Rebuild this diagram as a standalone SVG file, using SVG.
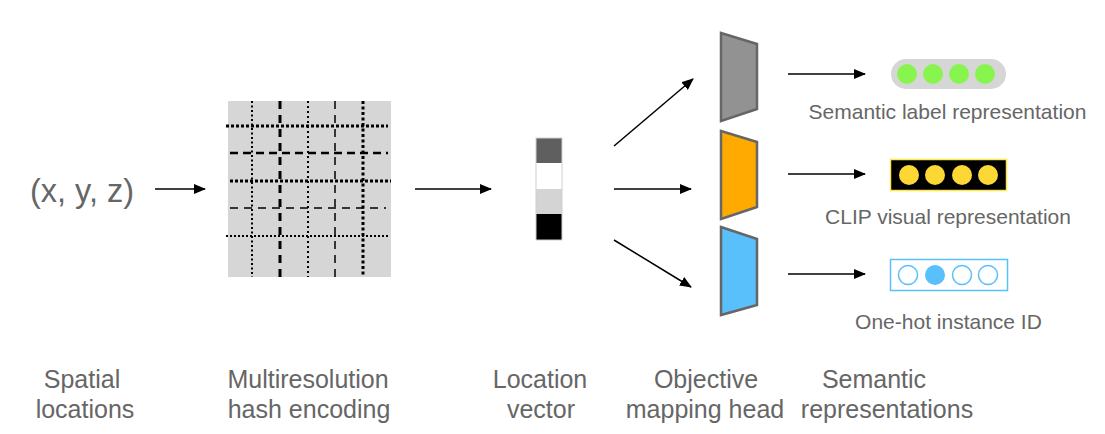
<svg xmlns="http://www.w3.org/2000/svg" width="1105" height="434" viewBox="0 0 1105 434">
  <style>
    .lbl { font-family: "Liberation Sans", Arial, sans-serif; fill: #666666; }
    .cap { font-size: 25px; text-anchor: middle; }
    .arrow { stroke: #000; stroke-width: 1.5; fill: none; marker-end: url(#head); }
    .head { stroke: #666666; stroke-width: 2.5; stroke-linejoin: miter; }
    .grid line { stroke: #000; }
  </style>
  <defs>
    <marker id="head" markerUnits="userSpaceOnUse" markerWidth="12" markerHeight="10" refX="11" refY="5" orient="auto">
      <path d="M0,0 L12,5 L0,10 Z" fill="#000"/>
    </marker>
  </defs>

  <rect width="1105" height="434" fill="#ffffff"/>

  <!-- input coordinates -->
  <g id="input">
    <text class="lbl" x="82" y="202" font-size="32.5" text-anchor="middle">(x, y, z)</text>
  </g>

  <!-- multiresolution hash grid -->
  <g id="hash-grid" class="grid">
    <rect x="228" y="101" width="163" height="176" fill="#d6d6d6"/>
    <line x1="252" y1="101" x2="252" y2="277" stroke-width="2" stroke-dasharray="2 2.5"/>
    <line x1="280" y1="101" x2="280" y2="277" stroke-width="3" stroke-dasharray="8 6"/>
    <line x1="308" y1="101" x2="308" y2="277" stroke-width="2" stroke-dasharray="2 3"/>
    <line x1="335" y1="101" x2="335" y2="277" stroke-width="1.5" stroke-dasharray="8 6"/>
    <line x1="363" y1="101" x2="363" y2="277" stroke-width="3" stroke-dasharray="3 2.5"/>
    <line x1="226" y1="126" x2="388" y2="126" stroke-width="3" stroke-dasharray="3 2"/>
    <line x1="230" y1="153" x2="388" y2="153" stroke-width="2.5" stroke-dasharray="8 5"/>
    <line x1="230" y1="181" x2="391" y2="181" stroke-width="3" stroke-dasharray="3 2"/>
    <line x1="230" y1="208" x2="386" y2="208" stroke-width="1.5" stroke-dasharray="8 6"/>
    <line x1="226" y1="236" x2="388" y2="236" stroke-width="2" stroke-dasharray="2 2"/>
  </g>

  <!-- location feature vector -->
  <g id="location-vector">
    <rect x="536" y="138" width="26" height="25" fill="#5f5f5f"/>
    <rect x="536" y="163" width="26" height="26" fill="#ffffff"/>
    <rect x="536" y="189" width="26" height="25" fill="#d4d4d4"/>
    <rect x="536" y="214" width="26" height="26" fill="#000000"/>
    <rect x="536" y="138" width="26" height="102" fill="none" stroke="#cfcfcf" stroke-width="1"/>
  </g>

  <!-- objective mapping heads -->
  <g id="head-semantic">
    <polygon class="head" points="721,33 757,44 757,109 721,121" fill="#929292"/>
  </g>
  <g id="head-clip">
    <polygon class="head" points="721,131 757,142 757,207 721,219" fill="#ffaa00"/>
  </g>
  <g id="head-instance">
    <polygon class="head" points="721,227 757,239 757,305 721,315" fill="#5ac0fb"/>
  </g>

  <!-- output representations -->
  <g id="out-semantic">
    <rect x="891" y="59" width="115" height="30" rx="15" fill="#d6d6d6"/>
    <circle cx="907" cy="74" r="10" fill="#88f54f"/>
    <circle cx="933" cy="74" r="10" fill="#88f54f"/>
    <circle cx="959" cy="74" r="10" fill="#88f54f"/>
    <circle cx="985" cy="74" r="10" fill="#88f54f"/>
    <text class="lbl" x="947.5" y="119" font-size="21" text-anchor="middle">Semantic label representation</text>
  </g>
  <g id="out-clip">
    <rect x="890.5" y="159.5" width="116" height="31" fill="#000" stroke="#ffe74d" stroke-width="1.5"/>
    <circle cx="909" cy="175" r="10" fill="#fdd835"/>
    <circle cx="935" cy="175" r="10" fill="#fdd835"/>
    <circle cx="962" cy="175" r="10" fill="#fdd835"/>
    <circle cx="988" cy="175" r="10" fill="#fdd835"/>
    <text class="lbl" x="948" y="224" font-size="21" text-anchor="middle">CLIP visual representation</text>
  </g>
  <g id="out-instance">
    <rect x="890.5" y="259.5" width="117" height="31" fill="#fff" stroke="#5ac0fb" stroke-width="1.5"/>
    <circle cx="908" cy="275" r="9.5" fill="#fff" stroke="#5ac0fb" stroke-width="1.5"/>
    <circle cx="935" cy="275" r="10" fill="#5ac0fb"/>
    <circle cx="962" cy="275" r="9.5" fill="#fff" stroke="#5ac0fb" stroke-width="1.5"/>
    <circle cx="988" cy="275" r="9.5" fill="#fff" stroke="#5ac0fb" stroke-width="1.5"/>
    <text class="lbl" x="948.5" y="329" font-size="21" text-anchor="middle">One-hot instance ID</text>
  </g>

  <!-- connectors -->
  <g id="connectors">
    <line class="arrow" x1="155" y1="189" x2="205" y2="189"/>
    <line class="arrow" x1="415" y1="189" x2="491" y2="189"/>
    <line class="arrow" x1="614" y1="146" x2="693" y2="79"/>
    <line class="arrow" x1="614" y1="189" x2="691" y2="189" stroke-width="2"/>
    <line class="arrow" x1="614" y1="240" x2="691" y2="287"/>
    <line class="arrow" x1="788" y1="74" x2="865" y2="74"/>
    <line class="arrow" x1="788" y1="174" x2="865" y2="174"/>
    <line class="arrow" x1="788" y1="274" x2="865" y2="274" stroke-width="2"/>
  </g>

  <!-- stage captions -->
  <g id="captions" class="lbl">
    <text class="cap" x="82" y="388">Spatial</text>
    <text class="cap" x="85" y="418">locations</text>
    <text class="cap" x="308" y="388">Multiresolution</text>
    <text class="cap" x="309" y="418">hash encoding</text>
    <text class="cap" x="540" y="388">Location</text>
    <text class="cap" x="541" y="418">vector</text>
    <text class="cap" x="706" y="388">Objective</text>
    <text class="cap" x="705" y="418">mapping head</text>
    <text class="cap" x="874" y="388">Semantic</text>
    <text class="cap" x="887" y="418">representations</text>
  </g>
</svg>
